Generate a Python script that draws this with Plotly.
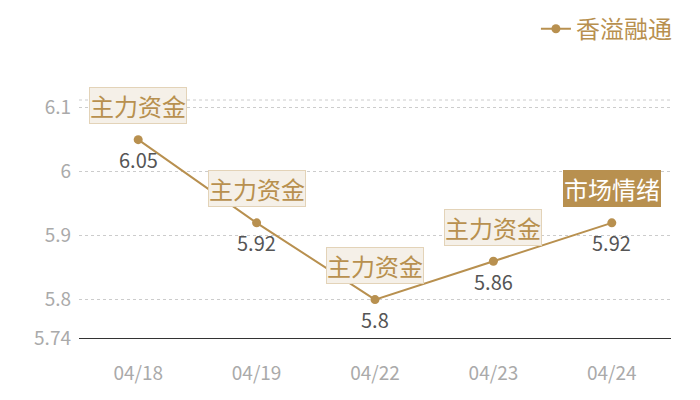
import plotly.graph_objects as go

dates = ["04/18", "04/19", "04/22", "04/23", "04/24"]
values = [6.05, 5.92, 5.80, 5.86, 5.92]
tags = ["主力资金", "主力资金", "主力资金", "主力资金", "市场情绪"]
series_name = "香溢融通"
y_ticks = [5.74, 5.8, 5.9, 6, 6.1]
y_tick_text = ["5.74", "5.8", "5.9", "6", "6.1"]

GOLD = "#b8904f"
FONT = "Noto Sans CJK SC"

fig = go.Figure()
fig.add_trace(go.Scatter(
    x=dates, y=values, mode="lines+markers", name=series_name,
    line=dict(color=GOLD, width=2), marker=dict(color=GOLD, size=9),
    cliponaxis=False,
))

annotations = []
for d, v, t in zip(dates, values, tags):
    annotations.append(dict(
        x=d, y=v, text=f"{v:g}", showarrow=False, yshift=-20,
        font=dict(family=FONT, size=20, color="#555555"),
    ))
    strong = t == "市场情绪"
    annotations.append(dict(
        x=d, y=v, text=t, showarrow=False, yshift=34,
        font=dict(family=FONT, size=24, color="#ffffff" if strong else GOLD),
        bgcolor=GOLD if strong else "#f5f0e8",
        bordercolor=GOLD if strong else "#e3d3b8",
        borderwidth=1, borderpad=0,
    ))

fig.update_layout(
    width=700, height=400,
    margin=dict(l=71, r=37, t=92, b=70, autoexpand=False),
    paper_bgcolor="white", plot_bgcolor="white",
    font=dict(family=FONT),
    showlegend=True,
    legend=dict(xref="paper", yref="paper", x=1.01, y=1.392,
                xanchor="right", yanchor="top",
                font=dict(family=FONT, size=24, color=GOLD),
                bgcolor="rgba(0,0,0,0)", itemwidth=30),
    annotations=annotations,
    shapes=[dict(type="line", xref="paper", yref="paper", x0=0, x1=1, y0=1, y1=1,
                 line=dict(color="#cccccc", width=1, dash="dot"))],
)
fig.update_xaxes(
    type="category", range=[-0.5, 4.5], showgrid=False, showline=True,
    linecolor="#333333", linewidth=1,
    ticks="", ticklabelstandoff=18,
    tickfont=dict(family=FONT, size=19, color="#aaaaaa"),
)
fig.update_yaxes(
    range=[5.74, 6.112], tickvals=y_ticks, ticktext=y_tick_text,
    showgrid=True, gridcolor="#cccccc", griddash="dot", gridwidth=1,
    zeroline=False, showline=False, ticks="", ticklabelstandoff=7,
    tickfont=dict(family=FONT, size=19, color="#aaaaaa"),
)

fig.write_html("out.html")
